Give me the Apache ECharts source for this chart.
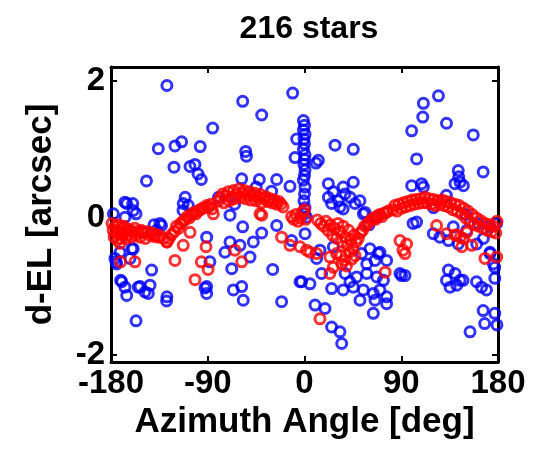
<!DOCTYPE html>
<html>
<head>
<meta charset="utf-8">
<script src="https://cdn.jsdelivr.net/npm/echarts@6/dist/echarts.min.js"></script>
<style>
  html, body { margin: 0; padding: 0; background: #fff; }
  #chart { width: 543px; height: 449px; }
</style>
</head>
<body>
<div id="chart"></div>
<script>
// measured star residuals, [azimuth deg, d-EL arcsec]
const blueStars = [
  [-128,1.93],[-57.5,1.70],[-39.8,1.50],[-11,1.82],[-85.4,1.31],[-136,1.01],[-120.5,1.05],[-114.3,1.11],
  [-97,1.04],[-54.7,0.97],[-54,0.90],[-121.4,0.74],[-106.5,0.75],[-101.9,0.78],[-99,0.64],[-96,0.56],
  [-147,0.54],[-58.4,0.57],[-42,0.56],[-25.9,0.56],[-13.5,0.46],[-30.6,0.39],[-111,0.30],[-112.8,0.21],
  [-108,0.18],[-113,0.11],[-167,0.23],[-165.4,0.21],[-159.8,0.21],[-156.7,0.06],[-159.3,0.11],[-177.8,0.06],
  [-167,0.01],[-134.4,-0.08],[-133,-0.11],[-137.7,-0.18],[-69.3,0.04],[-57.5,-0.13],[-25.9,-0.11],[-39.8,-0.22],
  [-91,-0.28],[-69.3,-0.35],[-60,-0.40],[-47.6,-0.35],[-74,-0.50],[-50.7,-0.57],[-175.3,-0.64],[-159.3,-0.45],
  [-171.6,-0.50],[-176.3,-0.59],[-174.7,-0.67],[-160.7,-0.45],[-162.3,-0.59],[-142.2,-0.76],[-88,-0.64],[-67.7,-0.74],
  [-29.6,-0.75],[-171,-0.91],[-170,-0.93],[-167,-1.01],[-153,-1.0],[-154.6,-1.01],[-165.4,-1.13],[-145.3,-1.10],
  [-148.4,-1.08],[-143.7,-0.98],[-91,-1.0],[-92.6,-1.02],[-91,-1.10],[-66.2,-1.05],[-58.4,-1.0],[-57,-1.2],
  [-21.3,-1.22],[-128.3,-1.21],[-128,-1.15],[-156.7,-1.5],[-150,-0.2],[-140,-0.1],[-80,0.3],[-65,0.2],[-45,0.45],
  [-1,1.42],[0,1.35],[-1,1.28],[0.5,1.22],[-0.5,1.15],[0,1.08],[-1,1.0],[0.5,0.92],[0,0.85],[-0.5,0.78],
  [0.5,0.7],[0,0.62],[-1,0.55],[0.5,0.45],[0,0.35],[-0.5,0.25],[0.5,0.15],[0,0.06],
  [-7.3,1.15],[-8.8,0.88],[12.9,0.84],[10.7,0.80],[0.5,-0.23],[1.9,0.01],[-2.7,-0.93],[5.1,-0.96],[9.8,-1.27],
  [-12,-0.33],[15.9,-0.81],[25.2,-1.03],[19.1,-1.32],[25.2,-1.59],[33,-1.66],[34.6,-1.83],
  [124.6,1.78],[110.6,1.67],[110,1.47],[99.7,1.27],[132.1,1.38],[157,1.21],[28.4,1.06],[45.4,1.0],
  [104.3,0.86],[143,0.69],[144.7,0.52],[143.5,0.6],[166.2,0.67],[22.2,0.50],[26.8,0.38],[45.4,0.52],
  [37.7,0.35],[25.2,0.21],[33,0.16],[36,0.13],[36,0.45],[22.2,0.30],[31.5,0.25],[42.4,0.30],[47,0.21],
  [51.6,0.25],[99.7,0.47],[109,0.50],[110.6,0.45],[140,0.5],[147.8,0.47],[132,0.33],[56.3,0.08],[54.7,0.06],
  [67.2,0.01],[104.3,-0.06],[101,-0.08],[119.8,-0.23],[138.4,-0.13],[126,-0.28],[133.9,-0.33],[143,-0.38],
  [150.9,-0.18],[160.2,-0.38],[166.4,-0.30],[161.7,-0.08],[172.6,-0.13],[178.8,-0.08],[172.6,-0.50],[175.7,-0.67],
  [26.8,-0.42],[53.1,-0.52],[60.9,-0.45],[68.6,-0.52],[57.9,-0.67],[65.6,-0.62],[70.2,-0.50],[76.4,-0.62],
  [14.4,-0.47],[11.3,-0.59],[60,-0.1],[120,0.15],[150,0.05],
  [37.7,-0.81],[48.5,-0.86],[57.9,-0.81],[67.2,-0.86],[73.4,-0.91],[45.4,-1.01],[54.7,-1.05],[64,-1.10],
  [70.2,-1.05],[76.4,-1.15],[51.6,-1.20],[65.6,-1.20],[76.4,-1.25],[64,-1.39],[42.3,-0.93],[36,-1.05],
  [-4.2,-0.93],[88.8,-0.81],[90.3,-0.84],[93.5,-0.84],
  [133.9,-0.76],[140.1,-0.81],[135.4,-1.01],[144.7,-0.91],[141.6,-0.98],[132.1,-0.91],[147.5,-0.91],[160,-0.93],
  [164.7,-1.01],[169.3,-1.05],[177,-0.88],[177,-0.72],[166.2,-1.35],[177,-1.39],[167.6,-1.54],[179,-1.56],
  [154,-1.66],[172.6,-0.52]
];

// model fit at the same stars
const redModel = [
  [-179,-0.08],[-178,-0.18],[-177,-0.28],[-176,-0.12],[-175,-0.22],[-174,-0.32],[-173,-0.1],[-172,-0.2],
  [-171,-0.3],[-170,-0.15],[-169,-0.25],[-168,-0.12],[-167,-0.2],[-166,-0.3],[-165,-0.16],[-164,-0.24],
  [-162,-0.18],[-161,-0.28],[-160,-0.2],[-158,-0.15],[-157,-0.25],[-155,-0.2],[-153,-0.28],[-152,-0.18],
  [-150,-0.22],[-148,-0.3],[-146,-0.2],[-144,-0.25],[-142,-0.22],[-140,-0.27],[-138,-0.24],[-136,-0.28],
  [-134,-0.26],[-131,-0.3],[-128,-0.35],[-126,-0.3],[-171.6,-0.37],
  [-124,-0.25],[-121,-0.2],[-119,-0.12],[-117,-0.15],[-115,-0.08],[-113,-0.05],[-111,-0.02],[-109,0.02],
  [-107,0.0],[-105,0.05],[-103,0.08],[-101,0.06],[-99,0.1],[-97,0.12],[-95,0.14],[-93,0.15],[-91,0.18],
  [-89,0.16],[-87,0.2],[-86,0.13],
  [-80,0.25],[-78,0.3],[-76,0.35],[-75,0.22],[-73,0.32],[-71,0.38],[-70,0.25],[-68,0.3],[-66,0.4],
  [-65,0.28],[-63,0.35],[-61,0.42],[-60,0.3],[-58,0.36],[-56,0.4],[-55,0.28],[-53,0.33],[-51,0.38],
  [-50,0.26],[-48,0.32],[-46,0.36],[-45,0.25],[-43,0.3],[-41,0.34],[-40,0.22],[-38,0.28],[-36,0.31],
  [-34,0.24],[-32,0.28],[-30,0.22],[-28,0.26],[-26,0.2],[-24,0.24],[-22,0.2],[-20,0.16],[-41.4,0.06],
  [-12,0.02],[-10,-0.02],[-8,0.05],[-6,-0.05],[-4,0.0],[-2,0.08],[0,0.12],[1,-0.02],
  [12,-0.03],[15,-0.08],[18,-0.12],[20,-0.05],[22,-0.18],[24,-0.1],[26,-0.25],[28,-0.15],[30,-0.3],
  [31,-0.08],[33,-0.2],[35,-0.35],[36,-0.12],[38,-0.28],[40,-0.4],[41,-0.18],[43,-0.32],[45,-0.45],
  [46,-0.25],[47,-0.55],[48,-0.35],[44,-0.6],[42,-0.5],[39,-0.7],[37,-0.62],[34,-0.55],[50,-0.3],
  [52,-0.22],[54,-0.18],[56,-0.12],[58,-0.1],[60,-0.06],[62,-0.03],[64,0.0],[66,-0.02],[68,0.03],
  [70,0.05],[72,0.02],[74,0.07],[76,0.08],[78,0.1],
  [82,0.12],[84,0.18],[86,0.1],[88,0.2],[90,0.14],[92,0.22],[94,0.16],[96,0.24],[98,0.18],[100,0.26],
  [102,0.2],[104,0.27],[106,0.21],[108,0.28],[110,0.22],[112,0.3],[114,0.22],[116,0.28],[118,0.2],
  [120,0.27],[122,0.18],[124,0.25],[126,0.2],[128,0.26],[130,0.18],[132,0.24],[134,0.16],[136,0.22],
  [138,0.12],[140,0.2],[142,0.1],[144,0.18],[146,0.06],[148,0.14],[150,0.0],[152,0.1],[154,-0.05],
  [156,0.05],[158,-0.1],[160,0.0],[162,-0.12],[164,-0.04],[166,-0.15],[168,-0.08],[170,-0.18],
  [172,-0.1],[174,-0.2],[176,-0.12],[178,-0.22],[179,-0.05],
  [-171,-0.64],[-157.7,-0.64],[-128,-0.35],[-120.5,-0.62],[-112.8,-0.40],[-106.5,-0.21],[-101.9,-0.90],
  [-96,-0.64],[-89.7,-0.75],[-91.6,-0.42],[-84.8,0.06],[-64.8,-0.47],[-58.4,-0.64],[-39.8,0.04],
  [-21.3,-0.28],[-13.5,-0.40],[-4.2,-0.42],[1.9,-0.47],[5.1,-0.50],[11.3,-0.52],
  [23.6,-0.57],[29.8,-0.52],[23.6,-0.81],[34.6,-0.67],[26.8,-0.72],[75,-0.79],[14.4,-1.47],
  [88.8,-0.33],[95,-0.38],[93.5,-0.52],[91.6,-0.47],[122.9,-0.11],[132.1,-0.23],[141.6,-0.25],[147.8,-0.30],
  [150.9,-0.21],[146.3,-0.42],[155.6,-0.40],[167.9,-0.59],[178.8,-0.57],[140,-0.25],[145,-0.28]
];

const xTicks = [-180, -90, 0, 90, 180];
const yTicks = [-2, 0, 2];

const font = 'Liberation Sans, Arial, Helvetica, sans-serif';
const frame = { onZero: false, lineStyle: { color: '#000', width: 3 } };
const tickIn = { inside: true, length: 6, lineStyle: { color: '#000', width: 2 } };

const chart = echarts.init(document.getElementById('chart'));
chart.setOption({
  animation: false,
  backgroundColor: '#fff',
  title: {
    text: '216 stars',
    left: 304,
    top: 8,
    textAlign: 'center',
    textStyle: { fontFamily: font, fontWeight: 'bold', fontSize: 32, color: '#000' }
  },
  grid: { left: 111, right: 45, top: 67, bottom: 87 },
  xAxis: [{
    type: 'value', min: -180, max: 180, interval: 90,
    name: 'Azimuth Angle [deg]', nameLocation: 'middle', nameGap: 40,
    nameTextStyle: { fontFamily: font, fontWeight: 'bold', fontSize: 35, color: '#000' },
    axisLine: frame, axisTick: tickIn, splitLine: { show: false },
    axisLabel: { fontFamily: font, fontWeight: 'bold', fontSize: 33, color: '#000', margin: 5,
      customValues: xTicks }
  }, {
    type: 'value', position: 'top', min: -180, max: 180, interval: 90,
    axisLine: frame, axisTick: tickIn, splitLine: { show: false }, axisLabel: { show: false }
  }],
  yAxis: [{
    type: 'value', min: -2.1, max: 2.2,
    name: 'd-EL [arcsec]', nameLocation: 'middle', nameGap: 52,
    nameTextStyle: { fontFamily: font, fontWeight: 'bold', fontSize: 35, color: '#000' },
    axisLine: frame, splitLine: { show: false },
    axisTick: Object.assign({ customValues: yTicks }, tickIn),
    axisLabel: { customValues: yTicks, fontFamily: font, fontWeight: 'bold', fontSize: 33, color: '#000', margin: 6 }
  }, {
    type: 'value', position: 'right', min: -2.1, max: 2.2,
    axisLine: frame, splitLine: { show: false },
    axisTick: Object.assign({ customValues: yTicks }, tickIn),
    axisLabel: { show: false }
  }],
  series: [{
    type: 'scatter', data: blueStars, symbol: 'circle', symbolSize: 10,
    itemStyle: { color: 'rgba(0,0,0,0)', borderColor: '#0000ff', borderWidth: 3 }
  }, {
    type: 'scatter', data: redModel, symbol: 'circle', symbolSize: 10,
    itemStyle: { color: 'rgba(0,0,0,0)', borderColor: '#ff0000', borderWidth: 3 }
  }]
});
</script>
</body>
</html>
